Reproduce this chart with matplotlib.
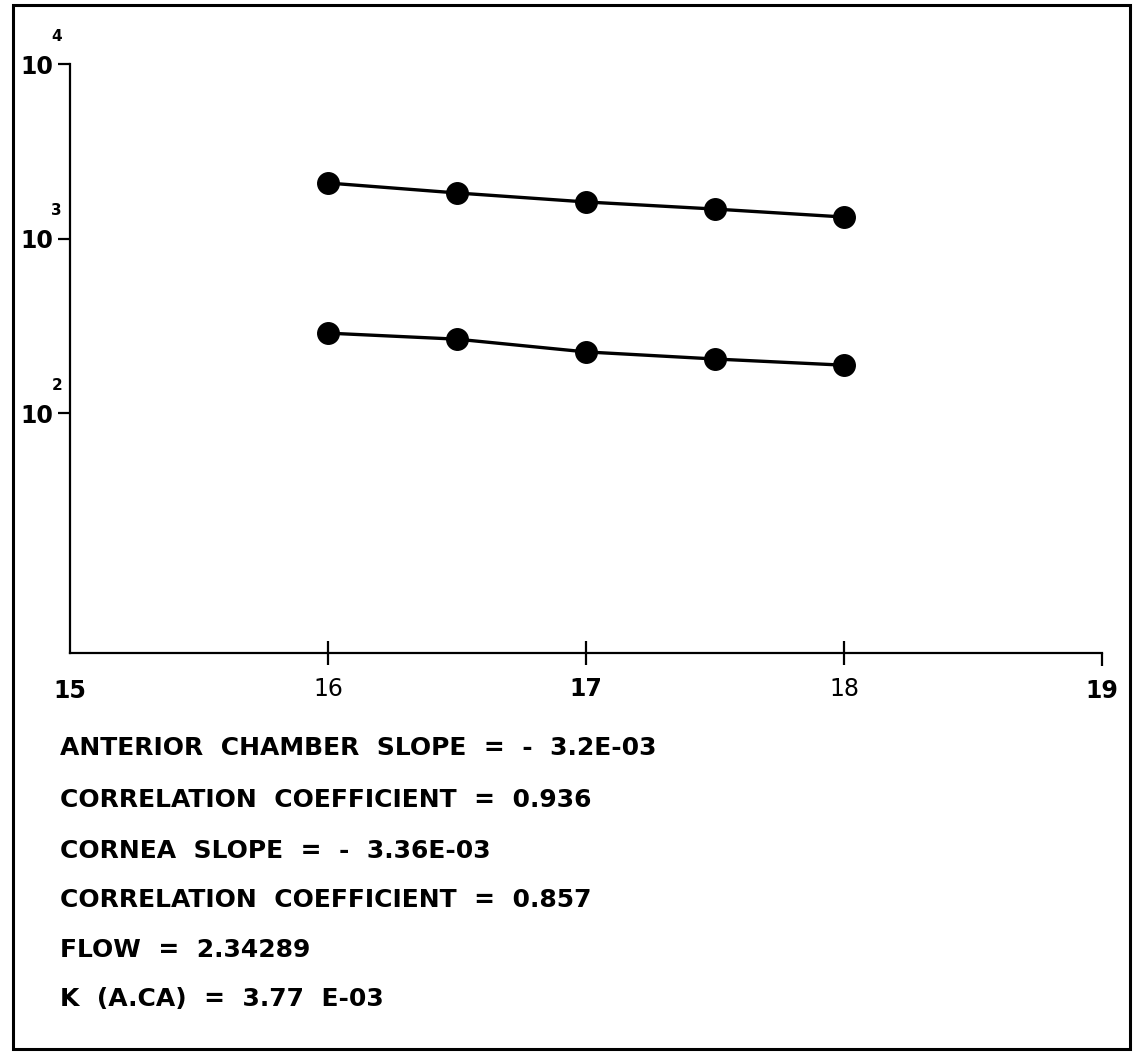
import matplotlib
matplotlib.use('Agg')
import matplotlib.pyplot as plt
from matplotlib.patches import Rectangle

# data
times = [16, 16.5, 17, 17.5, 18]
chamber = [2080, 1824, 1620, 1475, 1328]
cornea = [287, 265, 224, 204, 188]

xtick_major = [16, 17, 18]
xtick_ends = [15, 19]
ytick_vals = [1e2, 1e3, 1e4]
ytick_exps = ['2', '3', '4']

notes = [
    "ANTERIOR  CHAMBER  SLOPE  =  -  3.2E-03",
    "CORRELATION  COEFFICIENT  =  0.936",
    "CORNEA  SLOPE  =  -  3.36E-03",
    "CORRELATION  COEFFICIENT  =  0.857",
    "FLOW  =  2.34289",
    "K  (A.CA)  =  3.77  E-03",
]
note_y = [748, 800, 851, 900, 950, 999]

plt.rcParams['font.family'] = ['DejaVu Sans']
plt.rcParams['font.weight'] = 'bold'

W, H = 1141, 1056
fig = plt.figure(figsize=(W / 100, H / 100), dpi=100)
fig.patch.set_facecolor('white')

# frame around the whole sheet
fig.patches.append(Rectangle((13 / W, 1 - 1049 / H), (1130 - 13) / W, (1049 - 5) / H,
                             transform=fig.transFigure, fill=False, lw=2.2, ec='black'))

ax = fig.add_axes([70 / W, 1 - 653 / H, (1102 - 70) / W, (653 - 64) / H])
ax.set_yscale('log')
ax.set_xlim(15, 19)
ax.set_ylim(10 ** 0.625, 1e4)

for s in [chamber, cornea]:
    ax.plot(times, s, color='black', lw=2.4, marker='o', ms=15.5, clip_on=False)

ax.spines['top'].set_visible(False)
ax.spines['right'].set_visible(False)
ax.spines['left'].set_linewidth(1.6)
ax.spines['bottom'].set_linewidth(1.6)

# x axis
ax.set_xticks(xtick_major)
ax.set_xticklabels([str(v) for v in xtick_major])
ax.set_xticks(xtick_ends, minor=True)
ax.set_xticklabels([str(v) for v in xtick_ends], minor=True)
ax.tick_params(axis='x', which='major', direction='inout', length=17, width=1.6,
               pad=9, labelsize=17)
ax.tick_params(axis='x', which='minor', direction='out', length=9, width=1.6,
               pad=10, labelsize=17)
ax.xaxis.get_minor_ticks()[0].tick1line.set_visible(False)
for lab in ax.get_xticklabels():
    if lab.get_text() in ('16', '18'):
        lab.set_fontweight('normal')

# y axis
ax.yaxis.set_minor_locator(matplotlib.ticker.NullLocator())
ax.set_yticks(ytick_vals)
ax.set_yticklabels(['10'] * len(ytick_vals))
ax.tick_params(axis='y', which='major', direction='out', length=9, width=1.6,
               pad=3, labelsize=17)
for v, e in zip(ytick_vals, ytick_exps):
    ax.annotate(e, xy=(0, v), xycoords=('axes fraction', 'data'),
                xytext=(-9.5, 20), textcoords='offset points',
                ha='center', va='center', fontsize=11, fontweight='bold',
                annotation_clip=False)

# results text below the plot
for t, y in zip(notes, note_y):
    fig.text(60 / W, 1 - y / H, t, ha='left', va='center', fontsize=18,
             fontweight='bold')

fig.savefig('out.png', dpi=100, facecolor='white')
